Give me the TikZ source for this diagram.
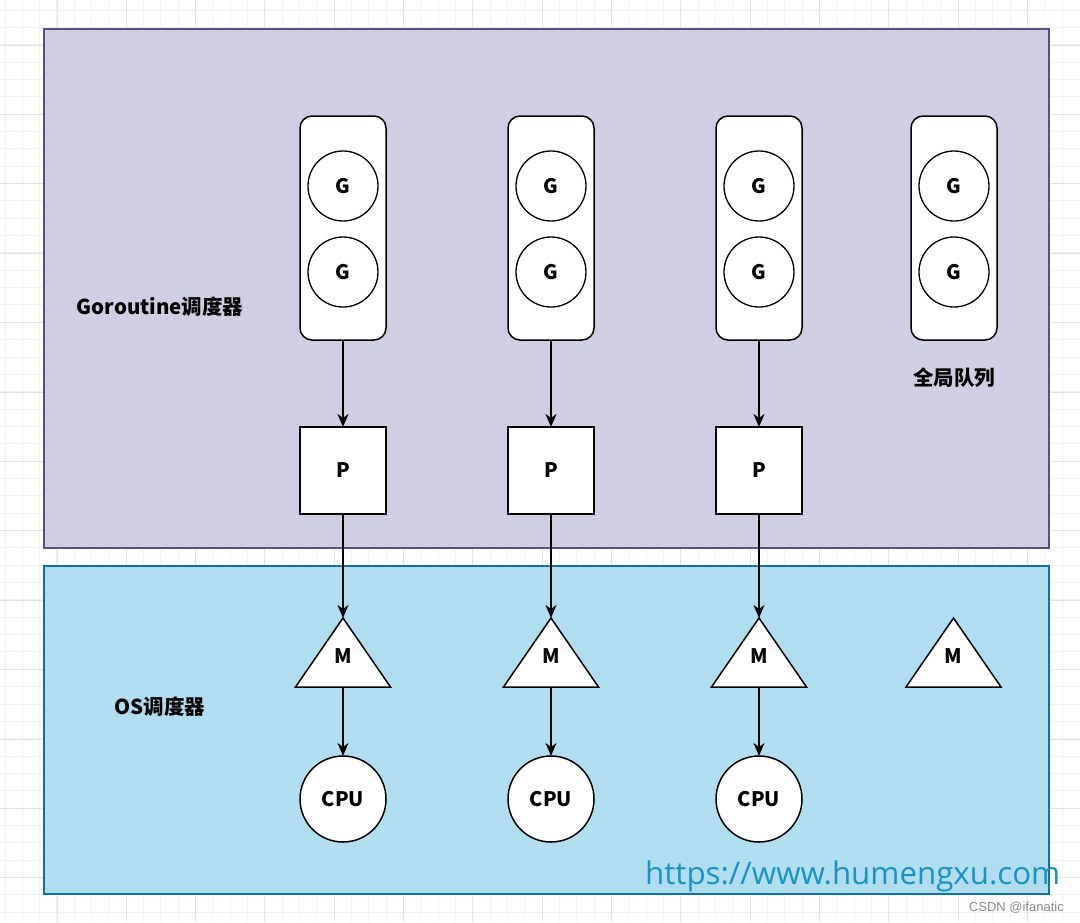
\documentclass[tikz,border=0pt]{standalone}
\usepackage{fontspec}
\usetikzlibrary{arrows.meta}
\newfontfamily\cjk{Noto Sans CJK SC}
\newfontfamily\wmfont{Open Sans}
\newfontfamily\arialfont{Liberation Sans}
\definecolor{gridminor}{HTML}{F2F2F2}
\definecolor{gridmajor}{HTML}{E4E4E4}
\definecolor{purplefill}{HTML}{D0CEE2}
\definecolor{purpleline}{HTML}{56517E}
\definecolor{bluefill}{HTML}{B1DDF0}
\definecolor{blueline}{HTML}{10739E}
\definecolor{wmblue}{HTML}{1A93C2}
\tikzset{
  panel/.style={inner sep=0pt, outer sep=0pt, line width=1.7pt},
  qbox/.style={draw=black, fill=white, line width=1.5pt, rounded corners=12pt, minimum width=86pt, minimum height=224pt, inner sep=0pt, outer sep=0pt},
  gnode/.style={draw=black, fill=white, line width=1.3pt, circle, minimum size=70pt, inner sep=0pt, font=\cjk\bfseries\fontsize{20}{20}\selectfont},
  pnode/.style={draw=black, fill=white, line width=1.5pt, minimum width=86pt, minimum height=87pt, inner sep=0pt, outer sep=0pt, font=\cjk\bfseries\fontsize{20}{20}\selectfont},
  cpunode/.style={draw=black, fill=white, line width=1.5pt, circle, minimum size=86pt, inner sep=0pt, outer sep=0pt, font=\cjk\bfseries\fontsize{20}{20}\selectfont},
  mtri/.style={draw=black, fill=white, line width=1.5pt, line join=miter},
  mtext/.style={inner sep=0pt, font=\cjk\bfseries\fontsize{20}{20}\selectfont},
  lbl/.style={inner sep=0pt, font=\cjk\bfseries\fontsize{20.5}{20.5}\selectfont},
  conn/.style={draw=black, line width=1.5pt, -{Stealth[length=13pt,width=11pt,inset=4pt]}},
}
\begin{document}
\begin{tikzpicture}[x=1pt,y=-1pt]
\useasboundingbox (0,0) rectangle (1080,922);
\fill[white] (0,0) rectangle (1080,922);
% background grid
\foreach \i in {0,...,61} \draw[gridminor, line width=1pt] ({5+17.33*\i},0) -- ({5+17.33*\i},922);
\foreach \j in {0,...,52} \draw[gridminor, line width=1pt] (0,{10+17.35*\j}) -- (1080,{10+17.35*\j});
\foreach \i in {0,...,14} \draw[gridmajor, line width=1pt] ({57+69.33*\i},0) -- ({57+69.33*\i},922);
\foreach \j in {0,...,12} \draw[gridmajor, line width=1pt] (0,{45+69.4*\j}) -- (1080,{45+69.4*\j});

% panels
\node[panel, draw=purpleline, fill=purplefill, minimum width=1005pt, minimum height=519pt] (gpanel) at (546.5,288.5) {};
\node[panel, draw=blueline, fill=bluefill, minimum width=1005pt, minimum height=328pt] (ospanel) at (546.5,730) {};

\node[lbl] (glabel) at (160,307) {Goroutine调度器};
\node[lbl] (oslabel) at (160,707) {OS调度器};
\node[lbl] (glq) at (954,378) {全局队列};

% columns
\foreach \c/\x in {1/343,2/551,3/759} {
  \node[qbox] (q\c) at (\x,228) {};
  \node[gnode] (ga\c) at (\x,186) {G};
  \node[gnode] (gb\c) at (\x,272) {G};
  \node[pnode] (p\c) at (\x,470.5) {P};
  \draw[mtri] (\x,618) -- ({\x-47.5},687) -- ({\x+47.5},687) -- cycle;
  \coordinate (mt\c) at (\x,618);
  \coordinate (mb\c) at (\x,687);
  \node[mtext] (m\c) at (\x,656) {M};
  \node[cpunode] (cpu\c) at (\x,799) {CPU};
  \draw[conn] (q\c.south) -- (p\c.north);
  \draw[conn] (p\c.south) -- (mt\c);
  \draw[conn] (mb\c) -- (cpu\c.north);
}
% global queue
\node[qbox] (q4) at (954,228) {};
\node[gnode] (ga4) at (954,186) {G};
\node[gnode] (gb4) at (954,272) {G};
\draw[mtri] (953.5,618) -- (906,687) -- (1001,687) -- cycle;
\node[mtext] (m4) at (953.5,656) {M};

% watermarks
\node[anchor=base west, inner sep=0pt, text=wmblue] (wm) at (645,884) {\resizebox{415pt}{!}{\wmfont https://www.humengxu.com}};
\node[anchor=base east, inner sep=0pt, text=black!45, font=\arialfont\fontsize{13}{13}\selectfont] (csdn) at (1064,911) {CSDN @ifanatic};
\end{tikzpicture}
\end{document}
